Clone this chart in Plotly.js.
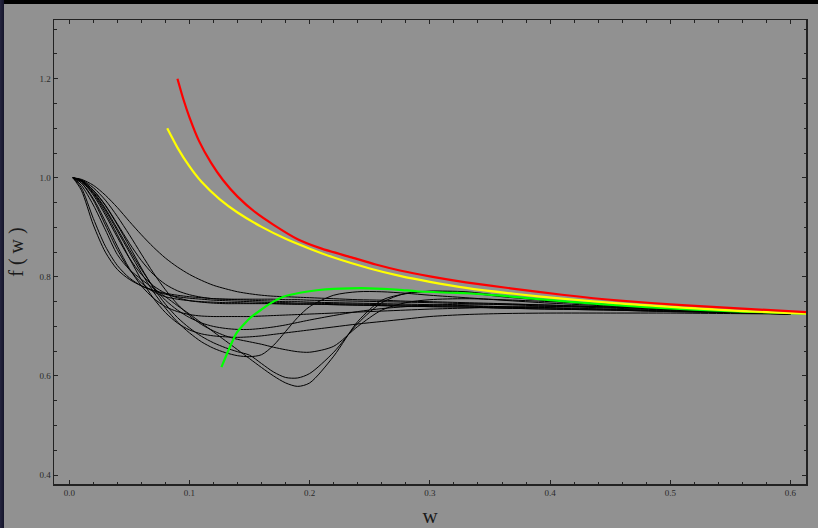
<!DOCTYPE html>
<html>
<head>
<meta charset="utf-8">
<script src="https://cdn.plot.ly/plotly-3.0.1.min.js"></script>
<style>
  html, body { margin: 0; padding: 0; width: 818px; height: 528px; overflow: hidden;
    background: linear-gradient(to right, #24243e 0px, #14142a 4px, #000 4px); }
  #chart { position: absolute; left: 4px; top: 4px; width: 814px; height: 524px; }
</style>
</head>
<body>
<div id="chart"></div>
<script>
// Shared w grid for the black curves
const wGrid = [0.003,0.01,0.02,0.03,0.04,0.05,0.06,0.07,0.08,0.09,0.10,0.11,0.12,0.13,0.14,0.15,0.16,0.17,0.18,0.19,0.20,0.22,0.24,0.26,0.28,0.30,0.33,0.36,0.40,0.45,0.50,0.55,0.60];

// Black curves f(w)
const curveA1 = [1.000,0.975,0.905,0.850,0.815,0.795,0.782,0.773,0.767,0.763,0.760,0.758,0.756,0.755,0.754,0.753,0.752,0.751,0.750,0.750,0.749,0.748,0.747,0.746,0.745,0.744,0.742,0.740,0.738,0.735,0.732,0.729,0.726];
const curveA2 = [1.000,0.980,0.918,0.862,0.823,0.798,0.782,0.772,0.765,0.760,0.757,0.755,0.753,0.752,0.751,0.750,0.749,0.748,0.748,0.747,0.747,0.746,0.745,0.744,0.743,0.742,0.741,0.739,0.737,0.734,0.731,0.728,0.725];
const curveB1 = [1.000,0.990,0.955,0.905,0.855,0.815,0.788,0.770,0.760,0.755,0.752,0.750,0.749,0.748,0.748,0.747,0.747,0.746,0.746,0.745,0.745,0.744,0.743,0.742,0.741,0.740,0.739,0.737,0.735,0.733,0.730,0.728,0.725];
const curveB2 = [1.000,0.993,0.965,0.925,0.880,0.838,0.805,0.782,0.767,0.758,0.752,0.749,0.747,0.746,0.746,0.746,0.746,0.746,0.745,0.745,0.745,0.744,0.743,0.742,0.741,0.740,0.739,0.737,0.735,0.733,0.730,0.728,0.725];
const curveB3 = [1.000,0.995,0.975,0.945,0.907,0.868,0.833,0.805,0.785,0.772,0.764,0.759,0.756,0.755,0.755,0.755,0.755,0.755,0.754,0.754,0.753,0.752,0.751,0.750,0.749,0.748,0.746,0.744,0.741,0.737,0.733,0.729,0.725];
const curveB4 = [1.000,0.997,0.985,0.965,0.940,0.912,0.885,0.860,0.838,0.820,0.805,0.793,0.783,0.776,0.770,0.766,0.763,0.761,0.760,0.759,0.758,0.756,0.754,0.753,0.751,0.750,0.748,0.746,0.743,0.739,0.735,0.730,0.725];
const curveC1 = [1.000,0.990,0.958,0.912,0.862,0.817,0.782,0.757,0.740,0.730,0.724,0.721,0.720,0.720,0.720,0.720,0.721,0.722,0.723,0.724,0.725,0.727,0.729,0.731,0.733,0.735,0.737,0.739,0.740,0.739,0.735,0.730,0.726];
const curveC2 = [1.000,0.993,0.968,0.930,0.885,0.838,0.794,0.757,0.728,0.707,0.693,0.685,0.681,0.679,0.678,0.679,0.681,0.684,0.687,0.690,0.693,0.699,0.705,0.710,0.715,0.720,0.724,0.726,0.727,0.727,0.727,0.726,0.725];
const curveC2b = [1.000,0.994,0.972,0.938,0.897,0.855,0.815,0.780,0.753,0.733,0.718,0.707,0.700,0.696,0.694,0.694,0.696,0.699,0.703,0.708,0.713,0.722,0.730,0.736,0.740,0.743,0.745,0.745,0.743,0.739,0.734,0.730,0.726];
const curveC3 = [1.000,0.994,0.970,0.935,0.893,0.850,0.808,0.770,0.737,0.709,0.687,0.669,0.656,0.647,0.641,0.639,0.643,0.662,0.690,0.718,0.740,0.763,0.770,0.770,0.767,0.763,0.758,0.753,0.747,0.741,0.735,0.730,0.726];
const curveC4 = [1.000,0.996,0.980,0.955,0.922,0.885,0.846,0.808,0.774,0.745,0.722,0.704,0.691,0.681,0.674,0.669,0.664,0.658,0.653,0.649,0.648,0.660,0.700,0.733,0.748,0.754,0.756,0.754,0.750,0.744,0.737,0.731,0.726];
const curveC5 = [1.000,0.995,0.975,0.944,0.905,0.862,0.818,0.778,0.745,0.718,0.697,0.680,0.667,0.657,0.649,0.642,0.625,0.608,0.597,0.596,0.605,0.648,0.706,0.748,0.767,0.771,0.768,0.760,0.752,0.744,0.737,0.731,0.726];
const curveC6 = [1.000,0.985,0.945,0.895,0.845,0.815,0.795,0.777,0.760,0.742,0.725,0.707,0.689,0.671,0.653,0.635,0.617,0.600,0.586,0.579,0.586,0.640,0.710,0.753,0.766,0.771,0.770,0.762,0.752,0.742,0.735,0.730,0.726];

const blackCurves = [curveA1, curveA2, curveB1, curveB2, curveB3, curveB4, curveC1, curveC2, curveC2b, curveC3, curveC4, curveC5, curveC6];

// Coloured reference curves
const redW = [0.090,0.095,0.100,0.108,0.118,0.128,0.140,0.155,0.170,0.190,0.210,0.234,0.255,0.275,0.300,0.330,0.367,0.410,0.458,0.510,0.560,0.613];
const redF = [1.200,1.158,1.122,1.074,1.030,0.995,0.962,0.930,0.905,0.876,0.857,0.840,0.825,0.813,0.801,0.789,0.777,0.764,0.752,0.743,0.736,0.729];
const yellowW = [0.0815,0.090,0.100,0.110,0.125,0.140,0.160,0.180,0.200,0.220,0.250,0.275,0.300,0.330,0.370,0.410,0.460,0.510,0.560,0.613];
const yellowF = [1.100,1.061,1.023,0.992,0.957,0.930,0.901,0.877,0.857,0.839,0.817,0.802,0.790,0.778,0.766,0.756,0.746,0.738,0.731,0.726];
const greenW = [0.1266,0.133,0.139,0.150,0.167,0.178,0.192,0.206,0.220,0.2335,0.250,0.261,0.275,0.289,0.317,0.331,0.360,0.386,0.415,0.442,0.480,0.520,0.560,0.613];
const greenF = [0.618,0.655,0.686,0.716,0.746,0.760,0.768,0.773,0.776,0.777,0.777,0.776,0.774,0.771,0.768,0.767,0.762,0.756,0.750,0.745,0.739,0.734,0.730,0.726];

const xTicks = [0.0, 0.1, 0.2, 0.3, 0.4, 0.5, 0.6];
const xTickText = ["0.0", "0.1", "0.2", "0.3", "0.4", "0.5", "0.6"];
const yTicks = [0.4, 0.6, 0.8, 1.0, 1.2];
const yTickText = ["0.4", "0.6", "0.8", "1.0", "1.2"];

const traces = [];
blackCurves.forEach(c => traces.push({
  x: wGrid, y: c, type: 'scatter', mode: 'lines',
  line: {color: '#000000', width: 1, shape: 'spline', smoothing: 0.8},
  hoverinfo: 'skip', showlegend: false
}));
traces.push({x: greenW, y: greenF, type: 'scatter', mode: 'lines', line: {color: '#00ff00', width: 2.2, shape: 'spline', smoothing: 0.6}, showlegend: false});
traces.push({x: yellowW, y: yellowF, type: 'scatter', mode: 'lines', line: {color: '#ffff00', width: 2.2, shape: 'spline', smoothing: 0.6}, showlegend: false});
traces.push({x: redW, y: redF, type: 'scatter', mode: 'lines', line: {color: '#ff0000', width: 2.2, shape: 'spline', smoothing: 0.6}, showlegend: false});

const serif = 'Liberation Serif, DejaVu Serif, serif';
const layout = {
  width: 814, height: 524,
  margin: {l: 50, r: 12, t: 15.5, b: 44},
  paper_bgcolor: '#919191', plot_bgcolor: '#919191',
  font: {family: serif, color: '#2a2a2a', size: 9},
  showlegend: false,
  xaxis: {
    range: [-0.0127, 0.6129], tickvals: xTicks, ticktext: xTickText,
    ticks: 'inside', ticklen: 4, tickwidth: 1, tickcolor: '#222',
    showline: true, linecolor: '#222', linewidth: 1.5, mirror: 'ticks',
    showgrid: false, zeroline: false,
    minor: {dtick: 0.02, tick0: 0, ticks: 'inside', ticklen: 2.5, tickcolor: '#222', showgrid: false},
    tickfont: {family: serif, size: 9, color: '#2a2a2a'},
    title: {text: 'w', font: {family: serif, size: 21, color: '#1a1a1a'}, standoff: 12}
  },
  yaxis: {
    range: [0.382, 1.3185], tickvals: yTicks, ticktext: yTickText,
    ticks: 'inside', ticklen: 4, tickwidth: 1, tickcolor: '#222',
    showline: true, linecolor: '#222', linewidth: 1.5, mirror: 'ticks',
    showgrid: false, zeroline: false,
    minor: {dtick: 0.05, tick0: 0, ticks: 'inside', ticklen: 2.5, tickcolor: '#222', showgrid: false},
    tickfont: {family: serif, size: 9, color: '#2a2a2a'},
    title: {text: 'f ( w )', font: {family: serif, size: 20, color: '#1a1a1a'}, standoff: 10}
  }
};

Plotly.newPlot('chart', traces, layout, {displayModeBar: false, staticPlot: true});
</script>
</body>
</html>
